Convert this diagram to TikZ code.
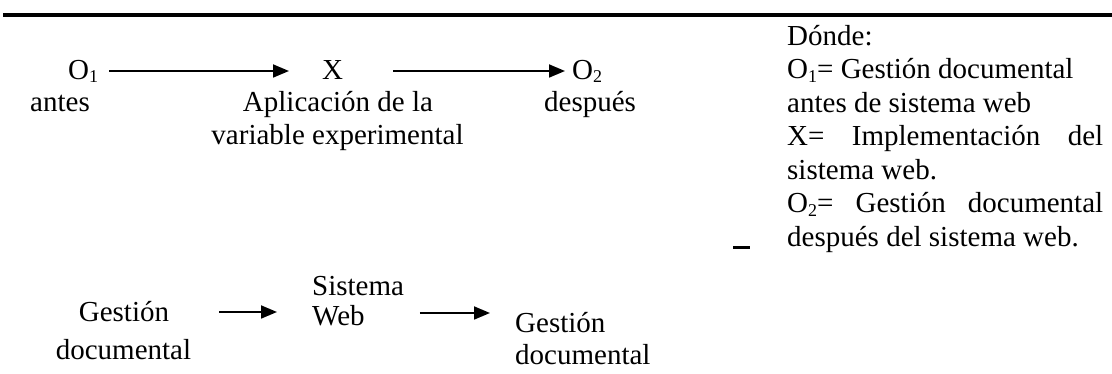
\documentclass[tikz,border=0pt]{standalone}
\usepackage{fontspec}
\setmainfont{Liberation Serif}
\usetikzlibrary{arrows.meta,calc}
\newcommand{\sbs}[1]{\raisebox{-0.12em}{\fontsize{18pt}{18pt}\selectfont #1}}
\begin{document}
\begin{tikzpicture}[x=1pt,y=-1pt,
  every node/.style={text height=20pt,text depth=6pt},
  txt/.style={inner sep=0pt,anchor=base west,font=\fontsize{29pt}{33.5pt}\selectfont},
  ctxt/.style={txt,anchor=base},
  arr/.style={line width=1.8pt,-{Triangle[length=16pt,width=13pt]}},
  rule/.style={line width=4pt}]
\useasboundingbox (0,0) rectangle (1112,374);
\draw[rule] (3,14.7) -- (1112,14.7);
% upper scheme
\node[txt] (o1) at (68,79.5) {O\sbs{1}};
\node[txt] (x) at (322,79.5) {X};
\node[txt] (o2) at (572,79.5) {O\sbs{2}};
\node[txt] (antes) at (30,111.5) {antes};
\node[ctxt] (apl) at (338,111.5) {Aplicación de la};
\node[ctxt] (var) at (337.5,144.5) {variable experimental};
\node[txt] (desp) at (544,111.5) {después};
\draw[arr] ($(o1.east)+(11,-1.5)$) -- ($(x.west)+(-33,-1.5)$);
\draw[arr] ($(x.east)+(50,-1.5)$) -- ($(o2.west)+(-7,-1.5)$);
% legend
\node[txt] (d0) at (787,45.5) {Dónde:};
\node[txt] (d1) at (787,79) {O\sbs{1}= Gestión documental};
\node[txt] (d2) at (787,112.5) {antes de sistema web};
\node[txt] (d3) at (787,146) {\makebox[316pt][s]{X= Implementación del}};
\node[txt] (d4) at (787,179.5) {sistema web.};
\node[txt] (d5) at (787,213) {\makebox[316pt][s]{O\sbs{2}= Gestión documental}};
\node[txt] (d6) at (787,246.5) {después del sistema web.};
\draw[line width=3pt] (733,248) -- (750,248);
% lower scheme
\node[ctxt] (g1) at (124,321.5) {Gestión};
\node[ctxt] (g1b) at (123.5,359.5) {documental};
\node[txt] (sys) at (312,295.5) {Sistema};
\node[txt] (web) at (312,326) {Web};
\node[txt] (g2) at (515,333) {Gestión};
\node[txt] (g2b) at (515,364) {documental};
\draw[arr] ($(g1.east)+(50,-2.5)$) -- ($(g1.east -| sys.west)+(-35,-2.5)$);
\draw[arr] ($(web.east)+(55,-6)$) -- ($(web.east -| g2.west)+(-25,-6)$);
\end{tikzpicture}
\end{document}
